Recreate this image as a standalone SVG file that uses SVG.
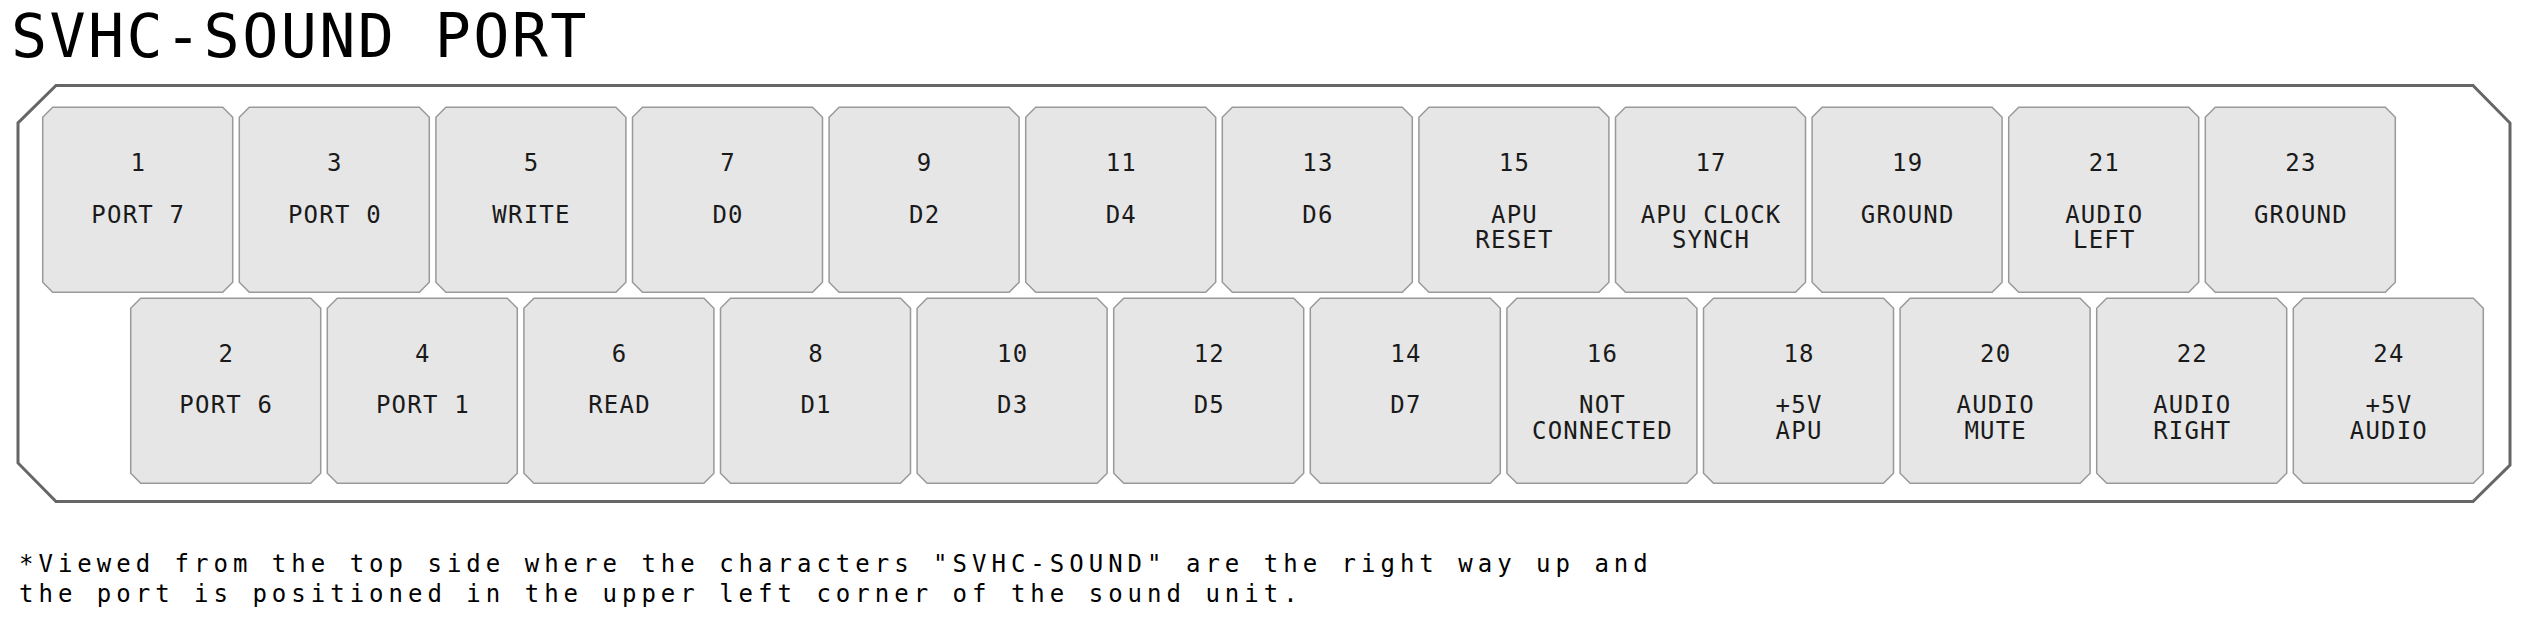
<svg xmlns="http://www.w3.org/2000/svg" xmlns:xlink="http://www.w3.org/1999/xlink" width="2532" height="620" viewBox="0 0 2532 620">
  <style>
    .title { font-family: "DejaVu Sans Mono", "Liberation Mono", monospace; font-size: 60px; letter-spacing: 2.4px; fill: #000; }
    .num, .lbl { font-family: "DejaVu Sans Mono", "Liberation Mono", monospace; font-size: 24px; letter-spacing: 1.2px; fill: #1a1a1a; text-anchor: middle; }
    .note { font-family: "DejaVu Sans Mono", "Liberation Mono", monospace; font-size: 24px; letter-spacing: 5px; fill: #000; }
    .pin { fill: #e6e6e6; stroke: #999; stroke-width: 1.5; }
    .shell { fill: #fff; stroke: #666; stroke-width: 3; }
  </style>
  <defs>
    <polygon id="pinShape" class="pin" points="10,0 180,0 190,10 190,175 180,185 10,185 0,175 0,10"/>
  </defs>
  <rect x="0" y="0" width="2532" height="620" fill="#fff"/>
  <text class="title" x="11" y="57">SVHC-SOUND PORT</text>
  <path class="shell" d="M56,85.5 L2473,85.5 L2510,123 L2510,465 L2473,501.5 L56,501.5 L18,463 L18,123 Z"/>
  <g id="pins-top">
    <g id="pin-1" transform="translate(42.7,107.3)"><use xlink:href="#pinShape"/><text class="num" x="95.6" y="63.4">1</text><text class="lbl" x="95.6" y="115.4">PORT 7</text></g>
    <g id="pin-3" transform="translate(239.3,107.3)"><use xlink:href="#pinShape"/><text class="num" x="95.6" y="63.4">3</text><text class="lbl" x="95.6" y="115.4">PORT 0</text></g>
    <g id="pin-5" transform="translate(435.9,107.3)"><use xlink:href="#pinShape"/><text class="num" x="95.6" y="63.4">5</text><text class="lbl" x="95.6" y="115.4">WRITE</text></g>
    <g id="pin-7" transform="translate(632.5,107.3)"><use xlink:href="#pinShape"/><text class="num" x="95.6" y="63.4">7</text><text class="lbl" x="95.6" y="115.4">D0</text></g>
    <g id="pin-9" transform="translate(829.1,107.3)"><use xlink:href="#pinShape"/><text class="num" x="95.6" y="63.4">9</text><text class="lbl" x="95.6" y="115.4">D2</text></g>
    <g id="pin-11" transform="translate(1025.7,107.3)"><use xlink:href="#pinShape"/><text class="num" x="95.6" y="63.4">11</text><text class="lbl" x="95.6" y="115.4">D4</text></g>
    <g id="pin-13" transform="translate(1222.3,107.3)"><use xlink:href="#pinShape"/><text class="num" x="95.6" y="63.4">13</text><text class="lbl" x="95.6" y="115.4">D6</text></g>
    <g id="pin-15" transform="translate(1418.9,107.3)"><use xlink:href="#pinShape"/><text class="num" x="95.6" y="63.4">15</text><text class="lbl" x="95.6" y="115.4">APU</text><text class="lbl" x="95.6" y="141">RESET</text></g>
    <g id="pin-17" transform="translate(1615.5,107.3)"><use xlink:href="#pinShape"/><text class="num" x="95.6" y="63.4">17</text><text class="lbl" x="95.6" y="115.4">APU CLOCK</text><text class="lbl" x="95.6" y="141">SYNCH</text></g>
    <g id="pin-19" transform="translate(1812.1,107.3)"><use xlink:href="#pinShape"/><text class="num" x="95.6" y="63.4">19</text><text class="lbl" x="95.6" y="115.4">GROUND</text></g>
    <g id="pin-21" transform="translate(2008.7,107.3)"><use xlink:href="#pinShape"/><text class="num" x="95.6" y="63.4">21</text><text class="lbl" x="95.6" y="115.4">AUDIO</text><text class="lbl" x="95.6" y="141">LEFT</text></g>
    <g id="pin-23" transform="translate(2205.3,107.3)"><use xlink:href="#pinShape"/><text class="num" x="95.6" y="63.4">23</text><text class="lbl" x="95.6" y="115.4">GROUND</text></g>
  </g>
  <g id="pins-bottom">
    <g id="pin-2" transform="translate(130.7,298.3)"><use xlink:href="#pinShape"/><text class="num" x="95.6" y="63.4">2</text><text class="lbl" x="95.6" y="115.1">PORT 6</text></g>
    <g id="pin-4" transform="translate(327.3,298.3)"><use xlink:href="#pinShape"/><text class="num" x="95.6" y="63.4">4</text><text class="lbl" x="95.6" y="115.1">PORT 1</text></g>
    <g id="pin-6" transform="translate(523.9,298.3)"><use xlink:href="#pinShape"/><text class="num" x="95.6" y="63.4">6</text><text class="lbl" x="95.6" y="115.1">READ</text></g>
    <g id="pin-8" transform="translate(720.5,298.3)"><use xlink:href="#pinShape"/><text class="num" x="95.6" y="63.4">8</text><text class="lbl" x="95.6" y="115.1">D1</text></g>
    <g id="pin-10" transform="translate(917.1,298.3)"><use xlink:href="#pinShape"/><text class="num" x="95.6" y="63.4">10</text><text class="lbl" x="95.6" y="115.1">D3</text></g>
    <g id="pin-12" transform="translate(1113.7,298.3)"><use xlink:href="#pinShape"/><text class="num" x="95.6" y="63.4">12</text><text class="lbl" x="95.6" y="115.1">D5</text></g>
    <g id="pin-14" transform="translate(1310.3,298.3)"><use xlink:href="#pinShape"/><text class="num" x="95.6" y="63.4">14</text><text class="lbl" x="95.6" y="115.1">D7</text></g>
    <g id="pin-16" transform="translate(1506.9,298.3)"><use xlink:href="#pinShape"/><text class="num" x="95.6" y="63.4">16</text><text class="lbl" x="95.6" y="115.1">NOT</text><text class="lbl" x="95.6" y="140.4">CONNECTED</text></g>
    <g id="pin-18" transform="translate(1703.5,298.3)"><use xlink:href="#pinShape"/><text class="num" x="95.6" y="63.4">18</text><text class="lbl" x="95.6" y="115.1">+5V</text><text class="lbl" x="95.6" y="140.4">APU</text></g>
    <g id="pin-20" transform="translate(1900.1,298.3)"><use xlink:href="#pinShape"/><text class="num" x="95.6" y="63.4">20</text><text class="lbl" x="95.6" y="115.1">AUDIO</text><text class="lbl" x="95.6" y="140.4">MUTE</text></g>
    <g id="pin-22" transform="translate(2096.7,298.3)"><use xlink:href="#pinShape"/><text class="num" x="95.6" y="63.4">22</text><text class="lbl" x="95.6" y="115.1">AUDIO</text><text class="lbl" x="95.6" y="140.4">RIGHT</text></g>
    <g id="pin-24" transform="translate(2293.3,298.3)"><use xlink:href="#pinShape"/><text class="num" x="95.6" y="63.4">24</text><text class="lbl" x="95.6" y="115.1">+5V</text><text class="lbl" x="95.6" y="140.4">AUDIO</text></g>
  </g>
  <g id="connectors"/>
  <text class="note" x="19" y="572">*Viewed from the top side where the characters "SVHC-SOUND" are the right way up and</text>
  <text class="note" x="19" y="601.5">the port is positioned in the upper left corner of the sound unit.</text>
</svg>
